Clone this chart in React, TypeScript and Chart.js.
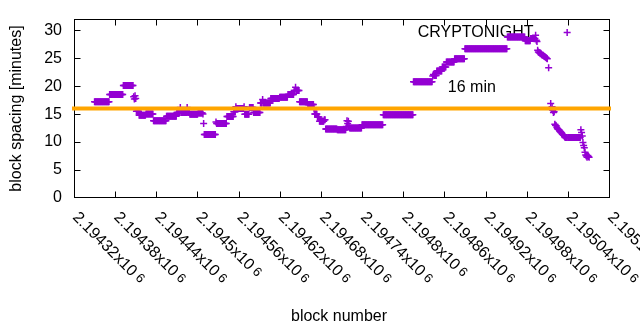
import React, { useEffect, useRef } from "react";
import { Chart, registerables } from "chart.js";

Chart.register(...registerables);

// ---- data ----
const FIRST_BLOCK = 2194350;
// run-length encoded block spacing (minutes): one value per consecutive block
const runLengths = [
  22, 20, 15, 1, 1, 1, 1, 4, 10, 11, 19, 15, 5, 1, 9, 1, 3, 12, 7, 1, 1, 17, 1, 15, 10, 3, 1, 11, 1, 7,
  6, 10, 3, 1, 11, 13, 12, 9, 2, 1, 5, 12, 9, 1, 4, 3, 7, 2, 17, 13, 1, 1, 1, 1, 1, 18, 31, 44, 28, 1,
  1, 4, 8, 6, 12, 15, 62, 26, 8, 7, 1, 1, 1, 1,
  1, 1, 1, 1, 1, 1, 1, 1, 1, 1, 1, 1, 1, 1,
  1, 1, 2, 1, 1, 1, 1, 1, 1, 1,
  1, 1, 1, 1, 1, 1, 1, 1, 1, 1, 1, 1, 1, 1,
  3, 1, 19,
  1, 1, 1, 1, 1, 1, 1, 1, 1, 1, 1, 1, 1,
];
const runValues: (number | null)[] = [
  17.2, 18.5, 20.1, 18.1, 17.7, 18.3, 17.8, 15.5, 14.8, 15.0, 13.8, 14.6, 15.3, 16.2, 15.3, 16.2, 15.3, 14.95, 15.2, 15.0, 13.3, 11.35, 13.6, 13.3, 14.55, 15.4, 16.3, 16.0, 16.3, 14.95,
  16.2, 15.3, 17.0, 17.6, 17.0, 17.8, 18.0, 18.5, 19.2, 19.8, 19.2, 17.2, 16.7, 15.9, 15.0, 14.5, 13.7, 14.0, 12.35, 12.2, 12.8, 13.8, 13.3, 13.7, 12.9, 12.5, 13.1, 14.9, 20.8, 21.8,
  22.1, 21.9, 22.7, 23.4, 24.3, 24.9, 26.7, 28.8, 28.1, 28.5, 29.1, 28.2, 28.0, 26.4,
  26.1, 26.0, 25.9, 25.8, 25.8, 25.6, 25.5, 25.5, 25.4, 25.3, 25.2, 25.1, 25.0, 24.9,
  null, 23.3, null, 16.9, null, 16.3, 15.7, 15.3, 15.4, 13.2,
  13.0, 12.9, 12.6, 12.4, 12.3, 12.2, 12.0, 11.9, 11.7, 11.6, 11.4, 11.3, 11.2, 11.0,
  10.8, 29.6, 10.8,
  12.2, 11.7, 11.1, 9.9, 9.4, 9.0, 8.2, 7.7, 7.5, 7.3, 7.6, 7.4, 7.3,
];

const X_MIN = 2194320;
const X_MAX = 2195100;
const xTickValues = [
  2194320, 2194380, 2194440, 2194500, 2194560, 2194620, 2194680, 2194740, 2194800, 2194860, 2194920,
  2194980, 2195040, 2195100,
];
const Y_MIN = 0;
const Y_MAX = 32;
const yTickValues = [0, 5, 10, 15, 20, 25, 30];
const THRESHOLD = 16;
const seriesLabel = "CRYPTONIGHT";
const thresholdLabel = "16 min";
const seriesLabelPos = { x: 2194821, y: 28.8 };
const thresholdLabelPos = { x: 2194865, y: 19.0 };
const xTitle = "block number";
const yTitle = "block spacing [minutes]";

const FONT_FAMILY = '"Liberation Sans", Arial, sans-serif';
const FONT = `16px ${FONT_FAMILY}`;
const SUP_FONT = `13px ${FONT_FAMILY}`;

function buildPoints() {
  const pts: { x: number; y: number }[] = [];
  let b = FIRST_BLOCK;
  for (let i = 0; i < runLengths.length; i++) {
    const v = runValues[i];
    for (let k = 0; k < runLengths[i]; k++) {
      if (v !== null) pts.push({ x: b, y: v });
      b++;
    }
  }
  return pts;
}

const framePlugin = {
  id: "gnuframe",
  beforeDatasetsDraw(chart: any) {
    const { ctx, chartArea: a, scales } = chart;
    const x = scales.x;
    const y = scales.y;
    ctx.save();
    ctx.strokeStyle = "#000";
    ctx.lineWidth = 1;
    const L = a.left + 0.5;
    const T = a.top + 0.5;
    const R = a.right + 0.5;
    const B = a.bottom - 0.5;
    ctx.strokeRect(L, T, R - L, B - T);
    ctx.beginPath();
    for (const v of xTickValues) {
      const px = Math.round(x.getPixelForValue(v)) + 0.5;
      ctx.moveTo(px, B);
      ctx.lineTo(px, B - 6);
      ctx.moveTo(px, T);
      ctx.lineTo(px, T + 6);
    }
    for (const v of yTickValues) {
      const py = Math.floor(y.getPixelForValue(v) - 0.01) + 0.5;
      ctx.moveTo(L, py);
      ctx.lineTo(L + 6, py);
      ctx.moveTo(R, py);
      ctx.lineTo(R - 6, py);
    }
    ctx.stroke();

    ctx.fillStyle = "#000";
    ctx.font = FONT;
    ctx.textAlign = "left";
    ctx.textBaseline = "alphabetic";
    ctx.fillText(seriesLabel, x.getPixelForValue(seriesLabelPos.x), y.getPixelForValue(seriesLabelPos.y));
    ctx.fillText(thresholdLabel, x.getPixelForValue(thresholdLabelPos.x), y.getPixelForValue(thresholdLabelPos.y));
    ctx.restore();
  },
  afterDraw(chart: any) {
    const { ctx, chartArea: a, scales } = chart;
    const x = scales.x;
    const y = scales.y;
    ctx.save();
    ctx.fillStyle = "#000";
    // y tick labels
    ctx.font = FONT;
    ctx.textAlign = "right";
    ctx.textBaseline = "middle";
    for (const v of yTickValues) {
      ctx.fillText(String(v), a.left - 12, y.getPixelForValue(v));
    }
    // x tick labels, rotated
    for (const v of xTickValues) {
      const mant = parseFloat((v / 1e6).toFixed(5)).toString() + "x10";
      const px = x.getPixelForValue(v);
      ctx.save();
      ctx.translate(px - 2, a.bottom + 20);
      ctx.rotate(Math.PI / 4);
      ctx.font = FONT;
      ctx.textAlign = "left";
      ctx.textBaseline = "alphabetic";
      ctx.fillText(mant, 0, 0);
      const w = ctx.measureText(mant).width;
      ctx.font = SUP_FONT;
      ctx.fillText("6", w + 3.5, -1.5);
      ctx.restore();
    }
    // axis titles
    ctx.font = FONT;
    ctx.textAlign = "center";
    ctx.textBaseline = "alphabetic";
    ctx.fillText(xTitle, 339, 321);
    ctx.save();
    ctx.translate(17, (a.top + a.bottom) / 2);
    ctx.rotate(-Math.PI / 2);
    ctx.textBaseline = "middle";
    ctx.fillText(yTitle, 0, 0);
    ctx.restore();
    ctx.restore();
  },
};

export default function App() {
  const ref = useRef<HTMLCanvasElement | null>(null);
  useEffect(() => {
    if (!ref.current) return;
    const chart = new Chart(ref.current, {
      type: "scatter",
      data: {
        datasets: [
          {
            type: "line",
            label: thresholdLabel,
            data: [
              { x: X_MIN, y: THRESHOLD },
              { x: X_MAX, y: THRESHOLD },
            ],
            borderColor: "#FFA500",
            borderWidth: 4,
            borderCapStyle: "square",
            pointRadius: 0,
            clip: false,
            order: 0,
          } as any,
          {
            type: "scatter",
            label: seriesLabel,
            data: buildPoints(),
            pointStyle: "cross",
            pointRadius: 3.5,
            pointHoverRadius: 3.5,
            borderColor: "#9400D3",
            backgroundColor: "#9400D3",
            borderWidth: 1.5,
            showLine: false,
            order: 1,
          } as any,
        ],
      },
      options: {
        responsive: false,
        animation: false,
        devicePixelRatio: 1,
        events: [],
        layout: { padding: { top: 19, right: 31, left: 0, bottom: 0 } },
        plugins: { legend: { display: false }, tooltip: { enabled: false } },
        scales: {
          x: {
            type: "linear",
            min: X_MIN,
            max: X_MAX,
            grid: { display: false },
            border: { display: false },
            ticks: { display: false, stepSize: 60 },
            afterFit: (s: any) => {
              s.height = 132;
            },
          },
          y: {
            type: "linear",
            min: Y_MIN,
            max: Y_MAX,
            grid: { display: false },
            border: { display: false },
            ticks: { display: false, stepSize: 5 },
            afterFit: (s: any) => {
              s.width = 74;
            },
          },
        },
      } as any,
      plugins: [framePlugin],
    });
    return () => chart.destroy();
  }, []);
  return (
    <div style={{ position: "fixed", left: 0, top: 0, width: 640, height: 330, background: "#fff" }}>
      <canvas ref={ref} width={640} height={330} style={{ display: "block" }} />
    </div>
  );
}
